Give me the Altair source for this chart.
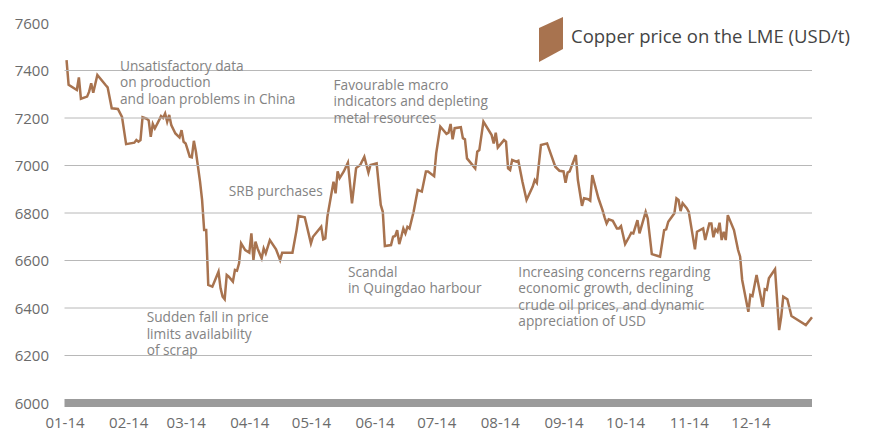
import altair as alt
import pandas as pd

# ---- data ----
dates = [
    "2014-01-02", "2014-01-03", "2014-01-07", "2014-01-08", "2014-01-09", "2014-01-12", "2014-01-13",
    "2014-01-14", "2014-01-15", "2014-01-17", "2014-01-21", "2014-01-22", "2014-01-24", "2014-01-27",
    "2014-01-29", "2014-01-31",
    "2014-02-04", "2014-02-05", "2014-02-06", "2014-02-07", "2014-02-08", "2014-02-10", "2014-02-11",
    "2014-02-12", "2014-02-13", "2014-02-14", "2014-02-16", "2014-02-17", "2014-02-18", "2014-02-19",
    "2014-02-20", "2014-02-21", "2014-02-22", "2014-02-24", "2014-02-26", "2014-02-27", "2014-02-28",
    "2014-03-01", "2014-03-03", "2014-03-04", "2014-03-05", "2014-03-06", "2014-03-08", "2014-03-09",
    "2014-03-10", "2014-03-11", "2014-03-12", "2014-03-14", "2014-03-17", "2014-03-18", "2014-03-19",
    "2014-03-20", "2014-03-21", "2014-03-22", "2014-03-24", "2014-03-25", "2014-03-26", "2014-03-27",
    "2014-03-28", "2014-03-30",
    "2014-04-01", "2014-04-02", "2014-04-03", "2014-04-04", "2014-04-05", "2014-04-07", "2014-04-08",
    "2014-04-09", "2014-04-11", "2014-04-14", "2014-04-16", "2014-04-17", "2014-04-22", "2014-04-24",
    "2014-04-25", "2014-04-28",
    "2014-05-01", "2014-05-02", "2014-05-06", "2014-05-07", "2014-05-08", "2014-05-09", "2014-05-12",
    "2014-05-13", "2014-05-14", "2014-05-15", "2014-05-17", "2014-05-19", "2014-05-21", "2014-05-23",
    "2014-05-25", "2014-05-27", "2014-05-29", "2014-05-30",
    "2014-06-02", "2014-06-04", "2014-06-05", "2014-06-06", "2014-06-09", "2014-06-10", "2014-06-11",
    "2014-06-12", "2014-06-13", "2014-06-14", "2014-06-15", "2014-06-16", "2014-06-17", "2014-06-18",
    "2014-06-20", "2014-06-22", "2014-06-24", "2014-06-26", "2014-06-27", "2014-06-30",
    "2014-07-01", "2014-07-03", "2014-07-06", "2014-07-07", "2014-07-08", "2014-07-09", "2014-07-10",
    "2014-07-13", "2014-07-14", "2014-07-15", "2014-07-16", "2014-07-18", "2014-07-20", "2014-07-21",
    "2014-07-22", "2014-07-24", "2014-07-28", "2014-07-29", "2014-07-30", "2014-07-31",
    "2014-08-03", "2014-08-04", "2014-08-05", "2014-08-06", "2014-08-07", "2014-08-09", "2014-08-10",
    "2014-08-12", "2014-08-14", "2014-08-17", "2014-08-18", "2014-08-19", "2014-08-21", "2014-08-24",
    "2014-08-26", "2014-08-28", "2014-08-30",
    "2014-09-01", "2014-09-02", "2014-09-03", "2014-09-04", "2014-09-07", "2014-09-08", "2014-09-10",
    "2014-09-11", "2014-09-13", "2014-09-14", "2014-09-15", "2014-09-18", "2014-09-20", "2014-09-21",
    "2014-09-22", "2014-09-23", "2014-09-25", "2014-09-27", "2014-09-28", "2014-09-29",
    "2014-10-01", "2014-10-03", "2014-10-04", "2014-10-05", "2014-10-07", "2014-10-08", "2014-10-11",
    "2014-10-12", "2014-10-14", "2014-10-17", "2014-10-18", "2014-10-20", "2014-10-21", "2014-10-22",
    "2014-10-25", "2014-10-26", "2014-10-27", "2014-10-28", "2014-10-29", "2014-10-31",
    "2014-11-01", "2014-11-04", "2014-11-05", "2014-11-08", "2014-11-09", "2014-11-11", "2014-11-12",
    "2014-11-13", "2014-11-14", "2014-11-15", "2014-11-16", "2014-11-17", "2014-11-18", "2014-11-19",
    "2014-11-20", "2014-11-21", "2014-11-23", "2014-11-25", "2014-11-26", "2014-11-27", "2014-11-30",
    "2014-12-01", "2014-12-02", "2014-12-04", "2014-12-07", "2014-12-08", "2014-12-09", "2014-12-10",
    "2014-12-13", "2014-12-15", "2014-12-16", "2014-12-17", "2014-12-19", "2014-12-21", "2014-12-28",
    "2014-12-31",
]

prices = [
    7444, 7340, 7318, 7371, 7281, 7290, 7311,
    7346, 7306, 7381, 7339, 7329, 7241, 7238,
    7205, 7090,
    7096, 7107, 7100, 7107, 7203, 7197, 7190,
    7121, 7175, 7156, 7190, 7208, 7200, 7219,
    7184, 7213, 7170, 7135, 7118, 7149, 7100,
    7093, 7037, 7034, 7104, 7058, 6932, 6855,
    6728, 6728, 6497, 6490, 6553, 6483, 6448,
    6437, 6539, 6532, 6511, 6560, 6557, 6588,
    6672, 6644,
    6633, 6714, 6602, 6679, 6651, 6609, 6651,
    6630, 6686, 6647, 6602, 6633, 6633, 6728,
    6787, 6782,
    6672, 6700, 6742, 6689, 6693, 6784, 6932,
    6883, 6975, 6947, 6975, 7012, 6841, 6989,
    7002, 7037, 6970, 7002,
    7009, 6834, 6805, 6661, 6665, 6700, 6703,
    6728, 6669, 6700, 6735, 6714, 6742, 6735,
    6805, 6897, 6890, 6975, 6975, 6955,
    7051, 7164, 7133, 7138, 7175, 7110, 7157,
    7161, 7115, 7110, 7030, 7009, 6988, 7058,
    7065, 7185, 7128, 7093, 7138, 7076,
    7107, 7100, 6988, 6981, 7023, 7016, 7020,
    6932, 6855, 6911, 6939, 6927, 7086, 7093,
    7044, 6995, 6978,
    6975, 6927, 6970, 6975, 7044, 6939, 6830,
    6862, 6858, 6852, 6960, 6862, 6812, 6782,
    6756, 6773, 6767, 6735, 6735, 6745,
    6669, 6700, 6717, 6714, 6770, 6714, 6805,
    6777, 6627, 6619, 6616, 6728, 6731, 6763,
    6799, 6862, 6855, 6808, 6841, 6820,
    6805, 6647, 6721, 6735, 6686, 6756, 6756,
    6698, 6731, 6721, 6759, 6686, 6721, 6686,
    6791, 6770, 6728, 6644, 6616, 6518, 6384,
    6455, 6450, 6539, 6405, 6479, 6476, 6525,
    6563, 6307, 6363, 6448, 6437, 6366, 6328,
    6361,
]

y_ticks = [6000, 6200, 6400, 6600, 6800, 7000, 7200, 7400, 7600]
grid_values = [6200, 6400, 6600, 6800, 7000, 7200, 7400]
base_value = [6000]
month_ticks = list(range(1, 13))

ann_dates = ["2014-01-28", "2014-05-12", "2014-03-22", "2014-05-19", "2014-08-10", "2014-02-10"]
ann_values = [7398, 7318, 6871, 6532, 6532, 6341]
ann_texts = [
    "Unsatisfactory data\non production\nand loan problems in China",
    "Favourable macro\nindicators and depleting\nmetal resources",
    "SRB purchases",
    "Scandal\nin Quingdao harbour",
    "Increasing concerns regarding\neconomic growth, declining\ncrude oil prices, and dynamic\nappreciation of USD",
    "Sudden fall in price\nlimits availability\nof scrap",
]

legend_label = ["Copper price on the LME (USD/t)"]

# ---- styling ----
FONT = "Open Sans"
LINE_COLOR = "#a8734f"
W, H = 747.5, 380

df = pd.DataFrame({"date": dates, "price": prices})
ann_df = pd.DataFrame({"date": ann_dates, "price": ann_values, "text": ann_texts})
grid_df = pd.DataFrame({"price": grid_values})
base_df = pd.DataFrame({"price": base_value})
legend_df = pd.DataFrame({"label": legend_label})

x_scale = alt.Scale(
    type="utc",
    domain=[alt.DateTime(year=2014, month=1, date=1, utc=True),
            alt.DateTime(year=2014, month=12, date=31, utc=True)],
)
y_scale = alt.Scale(domain=[6000, 7600], nice=False, zero=False)

x_axis = alt.Axis(
    values=[alt.DateTime(year=2014, month=m, date=1, utc=True) for m in month_ticks],
    format="%m-%y", title=None, grid=False, domain=False, ticks=False, tickSize=0,
    labelFont=FONT, labelFontSize=15, labelColor="#6b6b6b", labelPadding=12,
    labelFlush=False, labelOverlap=False,
)
y_axis = alt.Axis(
    values=y_ticks, format="d", title=None, grid=False, domain=False, ticks=False, tickSize=0,
    labelFont=FONT, labelFontSize=15, labelColor="#6b6b6b", labelPadding=16,
    labelFlush=False, labelOverlap=False,
)

X = alt.X("date:T", scale=x_scale, axis=x_axis)
Y = alt.Y("price:Q", scale=y_scale, axis=y_axis)

grid = alt.Chart(grid_df).mark_rule(color="#b8b8b8", strokeWidth=1).encode(y=Y)
base = alt.Chart(base_df).mark_rule(color="#9b9b9b", strokeWidth=8).encode(y=Y)
line = alt.Chart(df).mark_line(color=LINE_COLOR, strokeWidth=2.5).encode(x=X, y=Y)
ann = alt.Chart(ann_df).mark_text(
    align="left", baseline="alphabetic", font=FONT, fontSize=13.7, color="#838383",
    lineBreak="\n", lineHeight=16.5,
).encode(x=X, y=Y, text="text:N")
swatch = alt.Chart(legend_df).mark_point(
    shape="M -0.533 -0.51 L 0.533 -1 L 0.533 0.42 L -0.533 1 Z",
    filled=True, opacity=1, color=LINE_COLOR, size=2025, strokeWidth=0,
).encode(x=alt.value(486.5), y=alt.value(16.5))
legend_text = alt.Chart(legend_df).mark_text(
    align="left", baseline="middle", font=FONT, fontSize=18.5, color="#444444",
).encode(x=alt.value(506.5), y=alt.value(14), text="label:N")

chart = alt.layer(line, grid, base, ann, swatch, legend_text).properties(
    width=W, height=H,
    autosize=alt.AutoSizeParams(type="none"),
    padding={"left": 56.5, "top": 15, "right": 40, "bottom": 30},
).configure_view(stroke=None)

chart.save("out.html", embed_options={"renderer": "svg", "actions": False})
